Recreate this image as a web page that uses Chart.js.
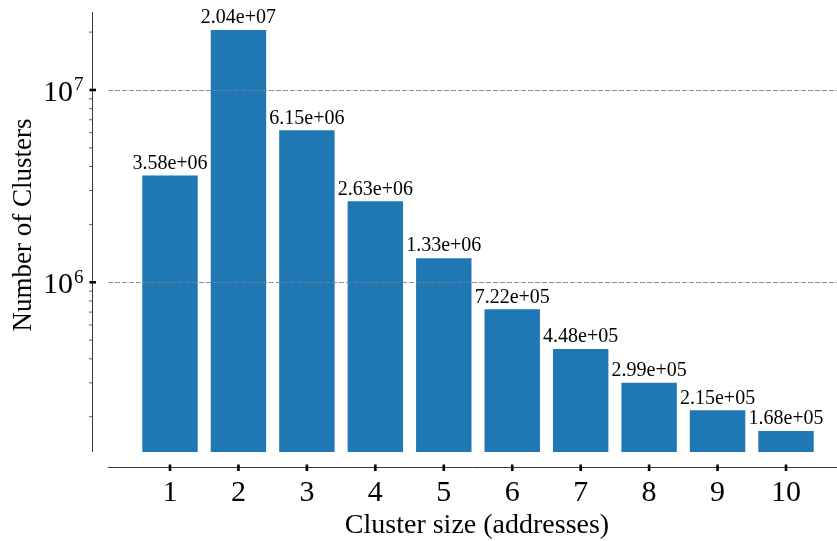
<!DOCTYPE html>
<html>
<head>
<meta charset="utf-8">
<script src="https://cdn.jsdelivr.net/npm/chart.js@4/dist/chart.umd.min.js"></script>
<style>
  html, body { margin: 0; padding: 0; background: #ffffff; }
  #wrap { width: 837px; height: 541px; position: relative; }
</style>
</head>
<body>
<div id="wrap"><canvas id="c"></canvas></div>
<script>
// ---- data ----
const clusterSizes = [1, 2, 3, 4, 5, 6, 7, 8, 9, 10];
const clusterCounts = [3.58e6, 2.04e7, 6.15e6, 2.63e6, 1.33e6, 7.22e5, 4.48e5, 2.99e5, 2.15e5, 1.68e5];
const barValueLabels = ['3.58e+06', '2.04e+07', '6.15e+06', '2.63e+06', '1.33e+06',
                        '7.22e+05', '4.48e+05', '2.99e+05', '2.15e+05', '1.68e+05'];
const xTickLabels = ['1', '2', '3', '4', '5', '6', '7', '8', '9', '10'];
const yMajorExponents = [6, 7];
const xTitle = 'Cluster size (addresses)';
const yTitle = 'Number of Clusters';

const SERIF = '"Liberation Serif", "DejaVu Serif", serif';

const axesPlugin = {
  id: 'mplAxes',
  afterDatasetsDraw(chart) {
    const ctx = chart.ctx;
    const area = chart.chartArea;
    const xs = chart.scales.x, ys = chart.scales.y;
    const spineX = area.left - 15.5;
    const spineY = area.bottom + 15.5;

    ctx.save();
    // grid lines (major only), drawn above bars
    ctx.strokeStyle = 'rgba(128,128,128,0.85)';
    ctx.lineWidth = 1;
    ctx.setLineDash([5, 2]);
    yMajorExponents.forEach(e => {
      const y = Math.round(ys.getPixelForValue(Math.pow(10, e))) + 0.5;
      ctx.beginPath();
      ctx.moveTo(area.left, y);
      ctx.lineTo(area.right, y);
      ctx.stroke();
    });
    ctx.setLineDash([]);

    // spines
    ctx.strokeStyle = '#3a3a3a';
    ctx.lineWidth = 1;
    ctx.beginPath();
    ctx.moveTo(spineX, area.top);
    ctx.lineTo(spineX, area.bottom);
    ctx.stroke();
    ctx.beginPath();
    ctx.moveTo(area.left, spineY);
    ctx.lineTo(area.right, spineY);
    ctx.stroke();

    // y minor ticks
    ctx.strokeStyle = '#3a3a3a';
    ctx.lineWidth = 0.8;
    for (let e = 5; e <= 7; e++) {
      for (let k = 2; k <= 9; k++) {
        const v = k * Math.pow(10, e);
        if (v < ys.min || v > ys.max) continue;
        const y = ys.getPixelForValue(v);
        ctx.beginPath();
        ctx.moveTo(spineX - 3.5, y);
        ctx.lineTo(spineX, y);
        ctx.stroke();
      }
    }
    // y major ticks + labels
    ctx.fillStyle = '#000';
    yMajorExponents.forEach(e => {
      const y = ys.getPixelForValue(Math.pow(10, e));
      ctx.fillRect(spineX - 3, y - 1.3, 6.5, 2.6);
      ctx.font = '30px ' + SERIF;
      const base = '10';
      const wb = ctx.measureText(base).width;
      ctx.font = '19px ' + SERIF;
      const sup = String(e);
      const ws = ctx.measureText(sup).width;
      const right = spineX - 9;
      const x0 = right - wb - ws - 1;
      ctx.textAlign = 'left';
      ctx.textBaseline = 'alphabetic';
      ctx.font = '30px ' + SERIF;
      ctx.fillText(base, x0, y + 11);
      ctx.font = '19px ' + SERIF;
      ctx.fillText(sup, x0 + wb + 1, y + 0.5);
    });

    // x ticks + labels
    ctx.font = '30px ' + SERIF;
    ctx.textAlign = 'center';
    ctx.textBaseline = 'alphabetic';
    clusterSizes.forEach((c, i) => {
      const x = xs.getPixelForValue(c);
      ctx.fillRect(x - 1.3, spineY - 3, 2.6, 6.5);
      ctx.fillText(xTickLabels[i], x, spineY + 33);
    });

    // axis titles
    ctx.font = '28px ' + SERIF;
    ctx.textAlign = 'center';
    ctx.fillText(xTitle, 477, 533);
    ctx.font = '27px ' + SERIF;
    ctx.save();
    ctx.translate(31, 225);
    ctx.rotate(-Math.PI / 2);
    ctx.fillText(yTitle, 0, 0);
    ctx.restore();

    // bar value labels
    const meta = chart.getDatasetMeta(0);
    ctx.font = '20px ' + SERIF;
    ctx.textAlign = 'center';
    ctx.textBaseline = 'alphabetic';
    meta.data.forEach((el, i) => {
      ctx.fillText(barValueLabels[i], el.x, el.y - 7);
    });
    ctx.restore();
  }
};

new Chart(document.getElementById('c'), {
  type: 'bar',
  data: {
    datasets: [{
      data: clusterSizes.map((c, i) => ({ x: c, y: clusterCounts[i] })),
      backgroundColor: '#1f77b4',
      borderWidth: 0,
      barThickness: 'flex',
      categoryPercentage: 0.8,
      barPercentage: 1.0
    }]
  },
  options: {
    responsive: true,
    maintainAspectRatio: false,
    animation: false,
    layout: { padding: { left: 108, right: 0, top: 12, bottom: 89 } },
    plugins: { legend: { display: false }, tooltip: { enabled: false } },
    scales: {
      x: { type: 'linear', display: false, offset: false, min: 0.0941, max: 10.745, bounds: 'data', grid: { offset: false } },
      y: { type: 'logarithmic', display: false, min: 1.311e5, max: 2.544e7, bounds: 'data' }
    }
  },
  plugins: [axesPlugin]
});
</script>
</body>
</html>
